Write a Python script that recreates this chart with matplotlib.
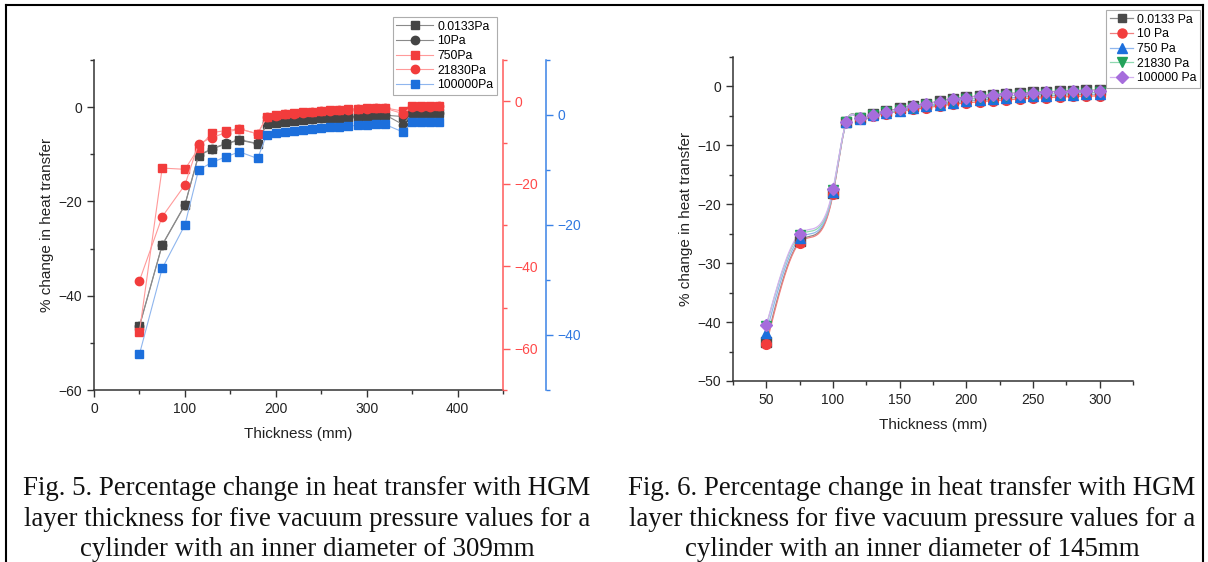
import numpy as np
import matplotlib
matplotlib.use("Agg")
import matplotlib.pyplot as plt
from matplotlib.lines import Line2D
from matplotlib.ticker import MultipleLocator

plt.rcParams['font.family'] = ['Liberation Sans', 'DejaVu Sans']

# ---------------- Fig. 5 data (inner diameter 309 mm) ----------------
x5 = [50, 75, 100, 115, 130, 145, 160, 180, 190, 200, 210, 220, 230, 240, 250,
      260, 270, 280, 290, 300, 310, 320, 340, 350, 360, 370, 380]
p0133_5 = [-46.5, -29.3, -20.8, -10.3, -8.9, -7.8, -7.0, -7.8, -3.5, -3.3, -3.1, -2.9,
           -2.7, -2.6, -2.4, -2.3, -2.2, -2.1, -2.0, -1.9, -1.8, -1.7, -2.0, -1.3,
           -1.3, -1.2, -1.2]
p10_5 = [-46.4, -29.2, -20.7, -10.2, -8.8, -7.7, -6.9, -7.7, -3.4, -3.2, -3.0, -2.8,
         -2.6, -2.5, -2.3, -2.2, -2.1, -2.0, -1.9, -1.8, -1.7, -1.6, -3.7, -1.3,
         -1.3, -1.2, -1.2]
p750_5 = [-55.9, -16.2, -16.5, -11.4, -7.6, -7.1, -6.7, -7.9, -3.8, -3.4, -3.1, -2.9,
          -2.7, -2.5, -2.3, -2.2, -2.0, -1.9, -1.8, -1.7, -1.6, -1.6, -2.4, -1.2,
          -1.2, -1.2, -1.2]
p21830_5 = [-43.5, -28.0, -20.3, -10.3, -8.8, -7.6, -6.7, -7.9, -3.9, -3.5, -3.2, -3.0,
            -2.8, -2.6, -2.4, -2.3, -2.1, -2.0, -1.9, -1.8, -1.7, -1.7, -3.0, -1.3,
            -1.3, -1.3, -1.2]
p100000_5 = [-43.5, -27.9, -20.0, -10.0, -8.6, -7.6, -6.7, -7.9, -3.6, -3.3, -3.1, -2.9,
             -2.7, -2.5, -2.3, -2.2, -2.1, -2.0, -1.9, -1.8, -1.7, -1.7, -3.1, -1.3,
             -1.3, -1.3, -1.3]
labels5 = ['0.0133Pa', '10Pa', '750Pa', '21830Pa', '100000Pa']

# ---------------- Fig. 6 data (inner diameter 145 mm) ----------------
x6 = [50, 75, 100, 110, 120, 130, 140, 150, 160, 170, 180, 190, 200, 210, 220,
      230, 240, 250, 260, 270, 280, 290, 300]
p0133_6 = [-43.3, -26.3, -18.1, -6.0, -5.3, -4.7, -4.2, -3.7, -3.3, -2.9, -2.5, -2.1,
           -1.8, -1.6, -1.4, -1.2, -1.1, -1.0, -0.9, -0.8, -0.7, -0.65, -0.6]
p10_6 = [-43.8, -26.5, -18.3, -6.1, -5.5, -5.0, -4.6, -4.2, -3.9, -3.6, -3.3, -3.0,
         -2.8, -2.6, -2.4, -2.3, -2.1, -2.0, -1.9, -1.8, -1.7, -1.65, -1.6]
p750_6 = [-41.8, -25.8, -17.9, -6.1, -5.5, -4.9, -4.5, -4.1, -3.7, -3.4, -3.1, -2.8,
          -2.5, -2.3, -2.1, -2.0, -1.8, -1.7, -1.6, -1.5, -1.4, -1.35, -1.3]
p21830_6 = [-40.6, -25.3, -17.6, -6.0, -5.4, -4.9, -4.4, -4.0, -3.6, -3.2, -2.9, -2.5,
            -2.2, -2.0, -1.8, -1.6, -1.5, -1.4, -1.3, -1.2, -1.1, -1.05, -1.0]
p100000_6 = [-40.5, -25.0, -17.4, -6.0, -5.4, -4.8, -4.3, -3.8, -3.4, -3.0, -2.6, -2.2,
             -1.9, -1.7, -1.5, -1.3, -1.2, -1.1, -1.0, -0.9, -0.8, -0.75, -0.7]
labels6 = ['0.0133 Pa', '10 Pa', '750 Pa', '21830 Pa', '100000 Pa']

caption5 = ("Fig. 5. Percentage change in heat transfer with HGM\n"
            "layer thickness for five vacuum pressure values for a\n"
            "cylinder with an inner diameter of 309mm")
caption6 = ("Fig. 6. Percentage change in heat transfer with HGM\n"
            "layer thickness for five vacuum pressure values for a\n"
            "cylinder with an inner diameter of 145mm")


def natural_spline(x, y, n=600):
    x = np.asarray(x, float)
    y = np.asarray(y, float)
    m = len(x)
    h = np.diff(x)
    A = np.zeros((m, m))
    b = np.zeros(m)
    A[0, 0] = A[-1, -1] = 1.0
    for i in range(1, m - 1):
        A[i, i - 1] = h[i - 1]
        A[i, i] = 2 * (h[i - 1] + h[i])
        A[i, i + 1] = h[i]
        b[i] = 3 * ((y[i + 1] - y[i]) / h[i] - (y[i] - y[i - 1]) / h[i - 1])
    c = np.linalg.solve(A, b)
    bb = (y[1:] - y[:-1]) / h - h * (2 * c[:-1] + c[1:]) / 3
    d = (c[1:] - c[:-1]) / (3 * h)
    xs = np.linspace(x[0], x[-1], n)
    idx = np.clip(np.searchsorted(x, xs) - 1, 0, m - 2)
    t = xs - x[idx]
    ys = y[idx] + bb[idx] * t + c[idx] * t ** 2 + d[idx] * t ** 3
    return xs, ys


W, H = 1208, 562
fig = plt.figure(figsize=(W / 100, H / 100), dpi=100)

TXT = '#222222'
AX = '#333333'
RED = '#f23c3c'
BLUE = '#1c6fdc'

# ---------------- Left chart ----------------
ax = fig.add_axes([94 / W, 1 - 390 / H, (503 - 94) / W, 330 / H])
axr = ax.twinx()
axb = ax.twinx()
for a in (ax, axr, axb):
    a.spines['top'].set_visible(False)
ax.spines['right'].set_visible(False)
for a in (axr, axb):
    a.spines['left'].set_visible(False)
    a.spines['bottom'].set_visible(False)
axb.spines['right'].set_position(('axes', 1.105))

ms = 6
h1, = ax.plot(x5, p0133_5, '-', color='#8a8a8a', lw=0.8, marker='s', ms=ms,
              mfc='#444444', mec='#444444', label=labels5[0], zorder=3)
h2, = ax.plot(x5, p10_5, '-', color='#8a8a8a', lw=0.8, marker='o', ms=ms,
              mfc='#444444', mec='#444444', label=labels5[1], zorder=3)
h3, = axr.plot(x5, p750_5, '-', color='#ff9a9a', lw=0.8, marker='s', ms=ms,
               mfc=RED, mec=RED, label=labels5[2])
h4, = axr.plot(x5, p21830_5, '-', color='#ff9a9a', lw=0.8, marker='o', ms=ms,
               mfc=RED, mec=RED, label=labels5[3])
h5, = axb.plot(x5, p100000_5, '-', color='#8fb6ee', lw=0.8, marker='s', ms=ms,
               mfc=BLUE, mec=BLUE, label=labels5[4])

ax.set_xlim(0, 450)
ax.set_ylim(-60, 10)
axr.set_ylim(-70, 10)
axb.set_ylim(-50, 10)

ax.xaxis.set_major_locator(MultipleLocator(100))
ax.xaxis.set_minor_locator(MultipleLocator(50))
ax.yaxis.set_major_locator(MultipleLocator(20))
ax.yaxis.set_minor_locator(MultipleLocator(10))
for a in (axr, axb):
    a.yaxis.set_major_locator(MultipleLocator(20))
    a.yaxis.set_minor_locator(MultipleLocator(10))

for s in ('left', 'bottom'):
    ax.spines[s].set_color(AX)
    ax.spines[s].set_linewidth(1.1)
ax.tick_params(axis='both', which='major', direction='out', length=5, width=1,
               color=AX, labelcolor=TXT, labelsize=10)
ax.tick_params(axis='both', which='minor', direction='out', length=3, width=1, color=AX)
axr.spines['right'].set_color('#ff5a5a')
axr.spines['right'].set_linewidth(1.1)
axr.tick_params(axis='y', which='major', direction='out', length=5, width=1,
                color='#ff5a5a', labelcolor='#ff4a4a', labelsize=10)
axr.tick_params(axis='y', which='minor', direction='out', length=3, width=1, color='#ff5a5a')
axb.spines['right'].set_color('#3a82e6')
axb.spines['right'].set_linewidth(1.1)
axb.tick_params(axis='y', which='major', direction='out', length=5, width=1,
                color='#3a82e6', labelcolor='#2f78e0', labelsize=10)
axb.tick_params(axis='y', which='minor', direction='out', length=3, width=1, color='#3a82e6')

ax.set_xlabel('Thickness (mm)', fontsize=11, color=TXT, labelpad=8)
ax.set_ylabel('% change in heat transfer', fontsize=11, color=TXT, labelpad=3)

leg5 = fig.legend(handles=[h1, h2, h3, h4, h5], loc='upper right',
                  bbox_to_anchor=(497 / W, 1 - 17 / H), fontsize=8.8,
                  frameon=True, fancybox=False, edgecolor='#999999',
                  labelspacing=0.22, handlelength=3.0, handletextpad=0.35,
                  borderpad=0.3, borderaxespad=0)
leg5.get_frame().set_linewidth(0.8)

# ---------------- Right chart ----------------
ax2 = fig.add_axes([733 / W, 1 - 381 / H, (1133 - 733) / W, (381 - 57) / H])
ax2.spines['top'].set_visible(False)
ax2.spines['right'].set_visible(False)

series6 = [p0133_6, p10_6, p750_6, p21830_6, p100000_6]
mk6 = ['s', 'o', '^', 'v', 'D']
mcol6 = ['#4a4a4a', '#f23c3c', '#1c6fdc', '#22a25a', '#a66ddc']
lcol6 = ['#8a8a8a', '#f08080', '#8fb6ee', '#8fd8b0', '#d4b0f0']
msz6 = [6.5, 7, 7, 7, 6.5]
handles6 = []
for ys, m, mc, lc, sz, lab in zip(series6, mk6, mcol6, lcol6, msz6, labels6):
    xs_s, ys_s = natural_spline(x6, ys)
    ax2.plot(xs_s, ys_s, '-', color=lc, lw=0.9, zorder=2)
    ax2.plot(x6, ys, linestyle='none', marker=m, ms=sz, mfc=mc, mec=mc, zorder=3)
    handles6.append(Line2D([0], [0], color=lc, lw=0.9, marker=m, ms=sz - 0.5,
                           mfc=mc, mec=mc, label=lab))

ax2.set_xlim(25, 325)
ax2.set_ylim(-50, 5)
ax2.xaxis.set_major_locator(MultipleLocator(50))
ax2.xaxis.set_minor_locator(MultipleLocator(25))
ax2.yaxis.set_major_locator(MultipleLocator(10))
ax2.yaxis.set_minor_locator(MultipleLocator(5))
for s in ('left', 'bottom'):
    ax2.spines[s].set_color(AX)
    ax2.spines[s].set_linewidth(1.1)
ax2.tick_params(axis='both', which='major', direction='out', length=5, width=1,
                color=AX, labelcolor=TXT, labelsize=10)
ax2.tick_params(axis='both', which='minor', direction='out', length=3, width=1, color=AX)
ax2.set_xlabel('Thickness (mm)', fontsize=11, color=TXT, labelpad=8)
ax2.set_ylabel('% change in heat transfer', fontsize=11, color=TXT, labelpad=3)

leg6 = fig.legend(handles=handles6, loc='upper right',
                  bbox_to_anchor=(1200 / W, 1 - 10 / H), fontsize=8.8,
                  frameon=True, fancybox=False, edgecolor='#999999',
                  labelspacing=0.22, handlelength=1.9, handletextpad=0.3,
                  borderpad=0.3, borderaxespad=0)
leg6.get_frame().set_linewidth(0.8)

# ---------------- Captions ----------------
cap_kw = dict(ha='center', va='top', fontsize=19.4, family=['Liberation Serif', 'DejaVu Serif'],
              color='#111111', linespacing=1.3)
fig.text(307 / W, 1 - 476 / H, caption5, **cap_kw)
fig.text(912 / W, 1 - 476 / H, caption6, **cap_kw)

# ---------------- Frame lines ----------------
fig.add_artist(Line2D([6 / W, 6 / W], [0, 1 - 5 / H], color='black', lw=1.5))
fig.add_artist(Line2D([1203 / W, 1203 / W], [0, 1 - 5 / H], color='black', lw=1.5))
fig.add_artist(Line2D([6 / W, 1203 / W], [1 - 5 / H, 1 - 5 / H], color='black', lw=1.5))

fig.savefig('out.png', dpi=100)
